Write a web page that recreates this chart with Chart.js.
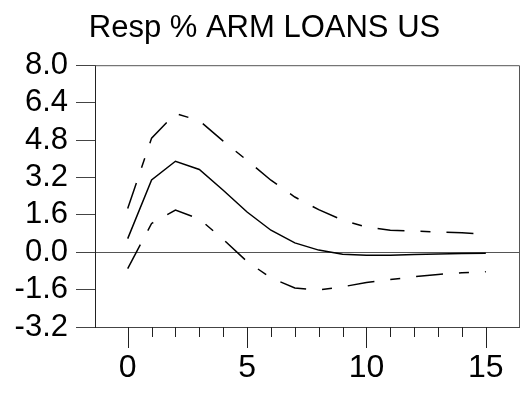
<!DOCTYPE html>
<html>
<head>
<meta charset="utf-8">
<script src="https://cdn.jsdelivr.net/npm/chart.js@4.4.1/dist/chart.umd.min.js"></script>
<style>
  html, body { margin: 0; padding: 0; background: #fff; }
  #wrap { width: 529px; height: 393px; }
</style>
</head>
<body>
<div id="wrap"><canvas id="irfChart" width="529" height="393"></canvas></div>
<script>
// data
var steps = [0, 1, 2, 3, 4, 5, 6, 7, 8, 9, 10, 11, 12, 13, 14, 15];
var response = [0.58, 3.09, 3.89, 3.54, 2.65, 1.72, 0.94, 0.40, 0.09, -0.09, -0.13, -0.13, -0.10, -0.08, -0.06, -0.05];
var upperBand = [1.87, 4.88, 5.93, 5.63, 4.75, 3.93, 3.08, 2.36, 1.82, 1.37, 1.08, 0.94, 0.90, 0.87, 0.83, 0.77];
var lowerBand = [-0.70, 1.23, 1.80, 1.42, 0.55, -0.40, -1.10, -1.53, -1.62, -1.48, -1.30, -1.17, -1.05, -0.95, -0.88, -0.84];
var yTicks = [-3.2, -1.6, 0.0, 1.6, 3.2, 4.8, 6.4, 8.0];
var xTicks = [0, 5, 10, 15];

var font = "'Liberation Sans', Arial, sans-serif";

function toPoints(values) {
    return steps.map(function (s, i) { return { x: s, y: values[i] }; });
}

// frame on top/right plus minor and major tick marks under the x axis
var framePlugin = {
    id: 'frame',
    afterDraw: function (chart) {
        var ctx = chart.ctx;
        var area = chart.chartArea;
        var xs = chart.scales.x;
        ctx.save();
        ctx.strokeStyle = '#555';
        ctx.lineWidth = 1;
        ctx.beginPath();
        ctx.moveTo(area.left, area.top + 0.5);
        ctx.lineTo(area.right + 0.5, area.top + 0.5);
        ctx.lineTo(area.right + 0.5, area.bottom);
        ctx.stroke();
        ctx.strokeStyle = '#222';
        steps.forEach(function (s) {
            var px = Math.round(xs.getPixelForValue(s)) + 0.5;
            var len = (s % 5 === 0) ? 21 : 10;
            ctx.beginPath();
            ctx.moveTo(px, area.bottom);
            ctx.lineTo(px, area.bottom + len);
            ctx.stroke();
        });
        ctx.restore();
    }
};

var ctxIrf = document.getElementById('irfChart').getContext('2d');
var irfChart = new Chart(ctxIrf, {
    type: 'line',
    data: {
        datasets: [{
            label: 'Response',
            data: toPoints(response),
            borderColor: '#000',
            borderWidth: 1.5,
            pointRadius: 0,
            tension: 0
        }, {
            label: 'Upper',
            data: toPoints(upperBand),
            borderColor: '#000',
            borderWidth: 1.5,
            borderDash: [27, 16, 10, 16],
            pointRadius: 0,
            tension: 0
        }, {
            label: 'Lower',
            data: toPoints(lowerBand),
            borderColor: '#000',
            borderWidth: 1.5,
            borderDash: [27, 16, 10, 16],
            pointRadius: 0,
            tension: 0
        }]
    },
    options: {
        responsive: false,
        animation: false,
        layout: { padding: 0 },
        plugins: {
            legend: { display: false },
            tooltip: { enabled: false },
            title: {
                display: true,
                text: 'Resp % ARM LOANS US',
                color: '#000',
                font: { family: font, size: 31, weight: 'normal' },
                padding: { top: 10, bottom: 18 }
            }
        },
        scales: {
            x: {
                type: 'linear',
                min: -1.37,
                max: 16.39,
                afterBuildTicks: function (scale) {
                    scale.ticks = xTicks.map(function (v) { return { value: v }; });
                },
                afterFit: function (scale) { scale.height = 66; },
                grid: { display: false, drawTicks: false },
                border: { display: true, color: '#444', width: 1 },
                ticks: {
                    color: '#000',
                    padding: 22,
                    maxRotation: 0,
                    autoSkip: false,
                    font: { family: font, size: 32 }
                }
            },
            y: {
                min: -3.2,
                max: 8.0,
                afterBuildTicks: function (scale) {
                    scale.ticks = yTicks.map(function (v) { return { value: v }; });
                },
                afterFit: function (scale) { scale.width = 95; },
                grid: {
                    drawTicks: true,
                    tickLength: 19,
                    tickColor: '#444',
                    color: function (c) {
                        return c.tick && c.tick.value === 0 ? '#555' : 'rgba(0,0,0,0)';
                    }
                },
                border: { display: true, color: '#222', width: 1 },
                ticks: {
                    color: '#000',
                    padding: 8,
                    autoSkip: false,
                    font: { family: font, size: 31 },
                    callback: function (v) { return v.toFixed(1); }
                }
            },
            // empty axis that only reserves the right margin
            yRight: {
                position: 'right',
                min: -3.2,
                max: 8.0,
                afterFit: function (scale) { scale.width = 10; },
                grid: { display: false, drawTicks: false },
                border: { display: false },
                ticks: { display: false }
            }
        }
    },
    plugins: [framePlugin]
});
</script>
</body>
</html>
